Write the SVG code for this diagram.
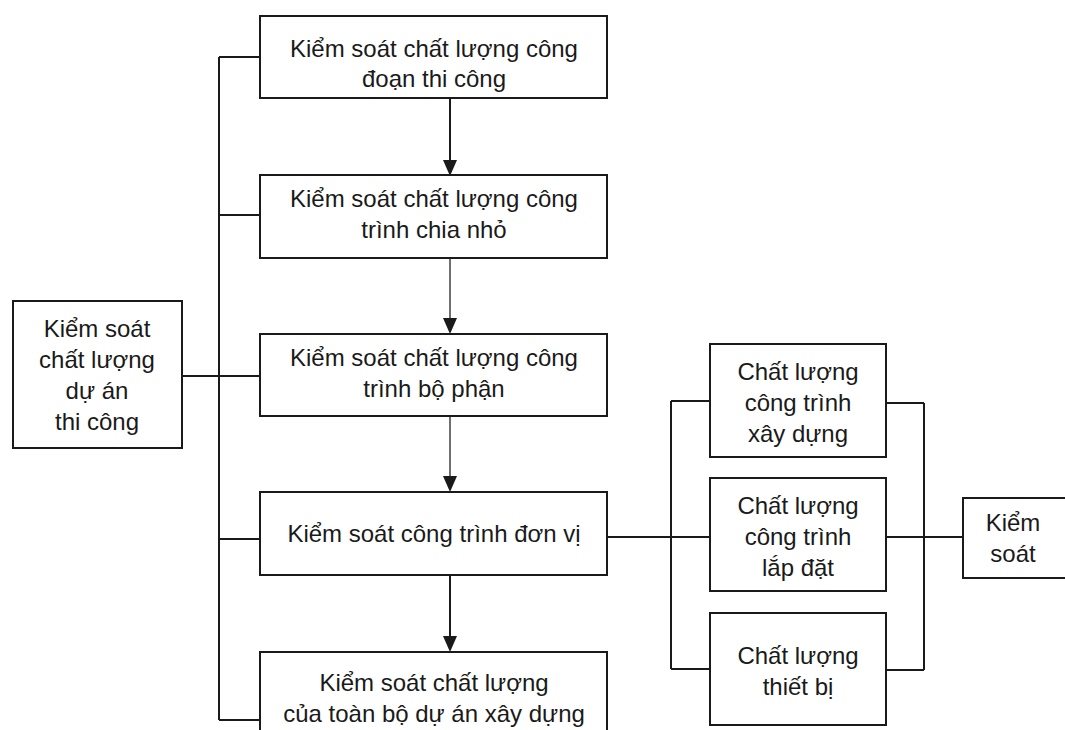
<svg xmlns="http://www.w3.org/2000/svg" width="1065" height="730" viewBox="0 0 1065 730">
<defs>
<style>
.box{fill:#fff;stroke:#1a1a1a;stroke-width:2}
.t{font-family:"Liberation Sans",Arial,sans-serif;font-size:24px;fill:#1a1a1a;text-anchor:middle}
.c{fill:none;stroke:#1a1a1a;stroke-width:2}
.thin{fill:none;stroke:#333;stroke-width:1.4}
.ah{fill:#1a1a1a}
</style>
</defs>
<rect width="1065" height="730" fill="#fff"/>
<g id="connectors">
<path class="c" d="M219,57 V720"/>
<path class="c" d="M219,57 H260 M219,215 H260 M182,376 H260 M219,539 H260 M219,720 H260"/>
<path class="c" d="M450,98 V160"/>
<path class="ah" d="M443,160 L457,160 L450,176 Z"/>
<path class="thin" d="M450,258 V318"/>
<path class="ah" d="M443,318 L457,318 L450,334 Z"/>
<path class="thin" d="M450,416 V476"/>
<path class="ah" d="M443,476 L457,476 L450,492 Z"/>
<path class="c" d="M450,575 V636"/>
<path class="ah" d="M443,636 L457,636 L450,652 Z"/>
<path class="c" d="M607,537 H710"/>
<path class="c" d="M671,401 V669 M671,401 H710 M671,669 H710"/>
<path class="c" d="M924,403 V670 M886,403 H924 M886,537 H963 M886,670 H924"/>
</g>
<g id="n1"><rect class="box" x="260" y="16" width="347" height="82"/><text class="t" x="434" y="57">Kiểm soát chất lượng công</text><text class="t" x="434" y="87">đoạn thi công</text></g>
<g id="n2"><rect class="box" x="260" y="175" width="347" height="83"/><text class="t" x="434" y="207">Kiểm soát chất lượng công</text><text class="t" x="434" y="238">trình chia nhỏ</text></g>
<g id="n3"><rect class="box" x="260" y="334" width="347" height="82"/><text class="t" x="434" y="366">Kiểm soát chất lượng công</text><text class="t" x="434" y="397">trình bộ phận</text></g>
<g id="n4"><rect class="box" x="260" y="492" width="347" height="83"/><text class="t" x="434" y="542">Kiểm soát công trình đơn vị</text></g>
<g id="n5"><rect class="box" x="260" y="652" width="347" height="90"/><text class="t" x="434" y="691">Kiểm soát chất lượng</text><text class="t" x="434" y="722">của toàn bộ dự án xây dựng</text></g>
<g id="n0"><rect class="box" x="13" y="301" width="169" height="147"/><text class="t" x="97" y="337">Kiểm soát</text><text class="t" x="97" y="368">chất lượng</text><text class="t" x="97" y="399">dự án</text><text class="t" x="97" y="430">thi công</text></g>
<g id="nA"><rect class="box" x="710" y="344" width="176" height="113"/><text class="t" x="798" y="380">Chất lượng</text><text class="t" x="798" y="411">công trình</text><text class="t" x="798" y="442">xây dựng</text></g>
<g id="nB"><rect class="box" x="710" y="478" width="176" height="113"/><text class="t" x="798" y="514">Chất lượng</text><text class="t" x="798" y="545">công trình</text><text class="t" x="798" y="576">lắp đặt</text></g>
<g id="nC"><rect class="box" x="710" y="613" width="176" height="112"/><text class="t" x="798" y="664">Chất lượng</text><text class="t" x="798" y="695">thiết bị</text></g>
<g id="nK"><rect class="box" x="963" y="498" width="110" height="80"/><text class="t" x="1013" y="531">Kiểm</text><text class="t" x="1013" y="562">soát</text></g>
</svg>
